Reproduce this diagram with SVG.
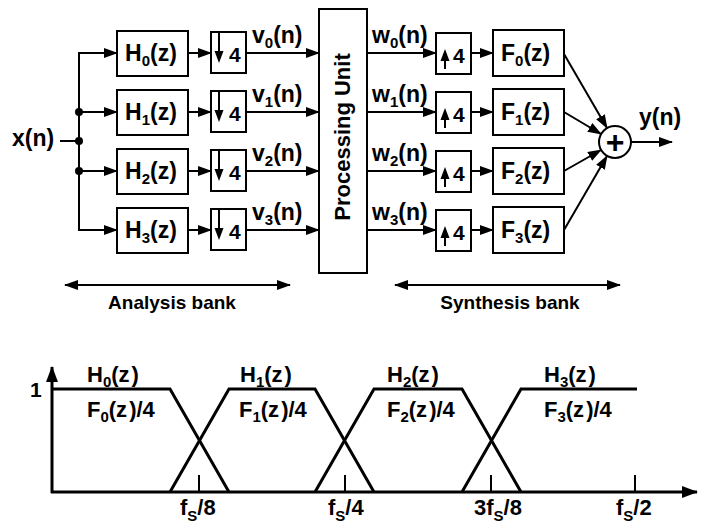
<svg xmlns="http://www.w3.org/2000/svg" width="702" height="528" viewBox="0 0 702 528">
<defs>
<style>
.b{fill:#fff;stroke:#000;stroke-width:2}
.l{stroke:#000;stroke-width:2;fill:none}
.g{stroke:#000;stroke-width:3;fill:none}
.t{font-family:"Liberation Sans",Arial,sans-serif;font-weight:bold;font-size:23px;fill:#000}
.m{font-size:21px}
.p{font-size:22px}
.s{font-size:15px}
.q{font-size:15px}
.k{font-size:19px}
.pl{font-size:32px}
</style>
<marker id="a" markerUnits="userSpaceOnUse" markerWidth="14" markerHeight="10" refX="13" refY="5" orient="auto-start-reverse"><path d="M0,0L14,5L0,10z" fill="#000"/></marker>
<marker id="ax" markerUnits="userSpaceOnUse" markerWidth="16" markerHeight="12" refX="15" refY="6" orient="auto"><path d="M0,0L16,6L0,12z" fill="#000"/></marker>
</defs>
<rect width="702" height="528" fill="#fff"/>

<g id="connectors">
<line class="l" x1="60" y1="141" x2="79" y2="141"/>
<line class="l" x1="79" y1="52" x2="79" y2="231"/>
<line class="l" x1="78" y1="53" x2="117" y2="53" marker-end="url(#a)"/>
<line class="l" x1="79" y1="112" x2="117" y2="112" marker-end="url(#a)"/>
<line class="l" x1="79" y1="171" x2="117" y2="171" marker-end="url(#a)"/>
<line class="l" x1="78" y1="230" x2="117" y2="230" marker-end="url(#a)"/>
<circle cx="79" cy="112" r="4"/>
<circle cx="79" cy="141" r="4"/>
<circle cx="79" cy="171" r="4"/>
<line class="l" x1="188" y1="53" x2="211" y2="53" marker-end="url(#a)"/>
<line class="l" x1="188" y1="112" x2="211" y2="112" marker-end="url(#a)"/>
<line class="l" x1="188" y1="171" x2="211" y2="171" marker-end="url(#a)"/>
<line class="l" x1="188" y1="230" x2="211" y2="230" marker-end="url(#a)"/>
<line class="l" x1="246" y1="53" x2="319" y2="53" marker-end="url(#a)"/>
<line class="l" x1="246" y1="112" x2="319" y2="112" marker-end="url(#a)"/>
<line class="l" x1="246" y1="171" x2="319" y2="171" marker-end="url(#a)"/>
<line class="l" x1="246" y1="230" x2="319" y2="230" marker-end="url(#a)"/>
<line class="l" x1="367" y1="53" x2="436" y2="53" marker-end="url(#a)"/>
<line class="l" x1="367" y1="112" x2="436" y2="112" marker-end="url(#a)"/>
<line class="l" x1="367" y1="171" x2="436" y2="171" marker-end="url(#a)"/>
<line class="l" x1="367" y1="230" x2="436" y2="230" marker-end="url(#a)"/>
<line class="l" x1="471" y1="53" x2="493" y2="53" marker-end="url(#a)"/>
<line class="l" x1="471" y1="112" x2="493" y2="112" marker-end="url(#a)"/>
<line class="l" x1="471" y1="171" x2="493" y2="171" marker-end="url(#a)"/>
<line class="l" x1="471" y1="230" x2="493" y2="230" marker-end="url(#a)"/>
<line class="l" x1="564" y1="54" x2="607" y2="128" marker-end="url(#a)"/>
<line class="l" x1="564" y1="112" x2="601" y2="134" marker-end="url(#a)"/>
<line class="l" x1="564" y1="171" x2="601" y2="150" marker-end="url(#a)"/>
<line class="l" x1="564" y1="230" x2="607" y2="156" marker-end="url(#a)"/>
<line class="l" x1="631" y1="142" x2="672" y2="142" marker-end="url(#a)"/>
<line class="l" x1="65" y1="285" x2="290" y2="285" marker-start="url(#a)" marker-end="url(#a)"/>
<line class="l" x1="395" y1="285" x2="620" y2="285" marker-start="url(#a)" marker-end="url(#a)"/>
</g>

<g id="labels">
<text class="t" x="12" y="146">x(n)</text>
<text class="t" x="252" y="43">v<tspan class="s" dy="5">0</tspan><tspan dy="-5">(n)</tspan></text>
<text class="t" x="252" y="102">v<tspan class="s" dy="5">1</tspan><tspan dy="-5">(n)</tspan></text>
<text class="t" x="252" y="161">v<tspan class="s" dy="5">2</tspan><tspan dy="-5">(n)</tspan></text>
<text class="t" x="252" y="220">v<tspan class="s" dy="5">3</tspan><tspan dy="-5">(n)</tspan></text>
<text class="t" x="372" y="43">w<tspan class="s" dy="5">0</tspan><tspan dy="-5">(n)</tspan></text>
<text class="t" x="372" y="102">w<tspan class="s" dy="5">1</tspan><tspan dy="-5">(n)</tspan></text>
<text class="t" x="372" y="161">w<tspan class="s" dy="5">2</tspan><tspan dy="-5">(n)</tspan></text>
<text class="t" x="372" y="220">w<tspan class="s" dy="5">3</tspan><tspan dy="-5">(n)</tspan></text>
<text class="t" x="639" y="125">y(n)</text>
<text class="t k" x="172" y="309" text-anchor="middle">Analysis bank</text>
<text class="t k" x="510" y="309" text-anchor="middle">Synthesis bank</text>
</g>

<g id="H0"><rect class="b" x="117" y="31" width="71" height="45"/><text class="t" x="125" y="61">H<tspan class="s" dy="5">0</tspan><tspan dy="-5">(z)</tspan></text></g>
<g id="H1"><rect class="b" x="117" y="90" width="71" height="45"/><text class="t" x="125" y="120">H<tspan class="s" dy="5">1</tspan><tspan dy="-5">(z)</tspan></text></g>
<g id="H2"><rect class="b" x="117" y="149" width="71" height="45"/><text class="t" x="125" y="179">H<tspan class="s" dy="5">2</tspan><tspan dy="-5">(z)</tspan></text></g>
<g id="H3"><rect class="b" x="117" y="208" width="71" height="45"/><text class="t" x="125" y="238">H<tspan class="s" dy="5">3</tspan><tspan dy="-5">(z)</tspan></text></g>

<g id="D0"><rect class="b" x="211" y="32" width="35" height="41"/><line class="l" x1="219" y1="33" x2="219" y2="54"/><path d="M214.5,51L223.5,51L219,63z"/><text class="t m" x="229" y="62">4</text></g>
<g id="D1"><rect class="b" x="211" y="91" width="35" height="41"/><line class="l" x1="219" y1="92" x2="219" y2="113"/><path d="M214.5,110L223.5,110L219,122z"/><text class="t m" x="229" y="121">4</text></g>
<g id="D2"><rect class="b" x="211" y="150" width="35" height="41"/><line class="l" x1="219" y1="151" x2="219" y2="172"/><path d="M214.5,169L223.5,169L219,181z"/><text class="t m" x="229" y="180">4</text></g>
<g id="D3"><rect class="b" x="211" y="209" width="35" height="41"/><line class="l" x1="219" y1="210" x2="219" y2="231"/><path d="M214.5,228L223.5,228L219,240z"/><text class="t m" x="229" y="239">4</text></g>

<g id="PU"><rect class="b" x="319" y="9" width="48" height="264"/><text class="t p" transform="translate(350,137) rotate(-90)" text-anchor="middle">Processing Unit</text></g>

<g id="U0"><rect class="b" x="436" y="33" width="35" height="41"/><line class="l" x1="445" y1="69" x2="445" y2="58"/><path d="M440.5,61L449.5,61L445,49z"/><text class="t m" x="453" y="63">4</text></g>
<g id="U1"><rect class="b" x="436" y="92" width="35" height="41"/><line class="l" x1="445" y1="128" x2="445" y2="117"/><path d="M440.5,120L449.5,120L445,108z"/><text class="t m" x="453" y="122">4</text></g>
<g id="U2"><rect class="b" x="436" y="151" width="35" height="41"/><line class="l" x1="445" y1="187" x2="445" y2="176"/><path d="M440.5,179L449.5,179L445,167z"/><text class="t m" x="453" y="181">4</text></g>
<g id="U3"><rect class="b" x="436" y="210" width="35" height="41"/><line class="l" x1="445" y1="246" x2="445" y2="235"/><path d="M440.5,238L449.5,238L445,226z"/><text class="t m" x="453" y="240">4</text></g>

<g id="F0"><rect class="b" x="493" y="30" width="71" height="46"/><text class="t" x="501" y="61">F<tspan class="s" dy="5">0</tspan><tspan dy="-5">(z)</tspan></text></g>
<g id="F1"><rect class="b" x="493" y="89" width="71" height="46"/><text class="t" x="501" y="120">F<tspan class="s" dy="5">1</tspan><tspan dy="-5">(z)</tspan></text></g>
<g id="F2"><rect class="b" x="493" y="148" width="71" height="46"/><text class="t" x="501" y="179">F<tspan class="s" dy="5">2</tspan><tspan dy="-5">(z)</tspan></text></g>
<g id="F3"><rect class="b" x="493" y="207" width="71" height="46"/><text class="t" x="501" y="238">F<tspan class="s" dy="5">3</tspan><tspan dy="-5">(z)</tspan></text></g>

<g id="SUM"><circle class="b" cx="615" cy="142" r="16"/><text class="t pl" x="615" y="153" text-anchor="middle">+</text></g>

<g id="plot">
<line class="g" x1="52" y1="493" x2="52" y2="367" marker-end="url(#ax)"/>
<line class="g" x1="51" y1="492" x2="697" y2="492" marker-end="url(#ax)"/>
<polyline class="g" points="52,389 170,389 229,492"/>
<polyline class="g" points="170,492 229,389 315,389 374,492"/>
<polyline class="g" points="315,492 374,389 462,389 521,492"/>
<polyline class="g" points="462,492 521,389 637,389"/>
<line class="l" x1="199" y1="475" x2="199" y2="492"/>
<line class="l" x1="345" y1="475" x2="345" y2="492"/>
<line class="l" x1="491" y1="475" x2="491" y2="492"/>
<line class="l" x1="635" y1="475" x2="635" y2="492"/>
<text class="t m" x="30" y="397">1</text>
<text class="t p" x="87" y="382">H<tspan class="q" dy="5">0</tspan><tspan dy="-5">(z</tspan><tspan dx="2">)</tspan></text>
<text class="t p" x="87" y="417">F<tspan class="q" dy="5">0</tspan><tspan dy="-5">(z</tspan><tspan dx="2">)/4</tspan></text>
<text class="t p" x="240" y="382">H<tspan class="q" dy="5">1</tspan><tspan dy="-5">(z</tspan><tspan dx="2">)</tspan></text>
<text class="t p" x="239" y="417">F<tspan class="q" dy="5">1</tspan><tspan dy="-5">(z</tspan><tspan dx="2">)/4</tspan></text>
<text class="t p" x="387" y="382">H<tspan class="q" dy="5">2</tspan><tspan dy="-5">(z</tspan><tspan dx="2">)</tspan></text>
<text class="t p" x="387" y="417">F<tspan class="q" dy="5">2</tspan><tspan dy="-5">(z</tspan><tspan dx="2">)/4</tspan></text>
<text class="t p" x="544" y="382">H<tspan class="q" dy="5">3</tspan><tspan dy="-5">(z</tspan><tspan dx="2">)</tspan></text>
<text class="t p" x="544" y="417">F<tspan class="q" dy="5">3</tspan><tspan dy="-5">(z</tspan><tspan dx="2">)/4</tspan></text>
<text class="t p" x="180" y="515">f<tspan class="q" dy="6">S</tspan><tspan dy="-6">/8</tspan></text>
<text class="t p" x="328" y="515">f<tspan class="q" dy="6">S</tspan><tspan dy="-6">/4</tspan></text>
<text class="t p" x="474" y="515">3f<tspan class="q" dy="6">S</tspan><tspan dy="-6">/8</tspan></text>
<text class="t p" x="616" y="515">f<tspan class="q" dy="6">S</tspan><tspan dy="-6">/2</tspan></text>
</g>
</svg>
